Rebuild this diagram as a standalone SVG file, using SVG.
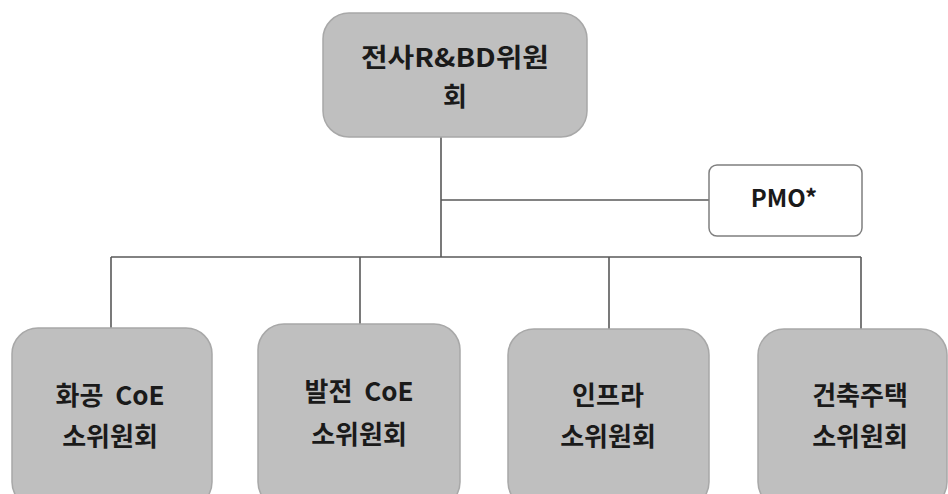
<svg xmlns="http://www.w3.org/2000/svg" width="948" height="494" viewBox="0 0 948 494">
<style>
.g{fill:#bfbfbf;stroke:#a8a8a8;stroke-width:1.5}
.w{fill:#ffffff;stroke:#7f7f7f;stroke-width:1.5}
.t{font-family:"Noto Sans CJK KR","Noto Sans",sans-serif;font-weight:700;font-size:26px;fill:#1a1a1a;text-anchor:middle}
.c{fill:none;stroke:#595959;stroke-width:1.6}
</style>
<rect width="948" height="494" fill="#ffffff"/>
<g id="connectors">
<path class="c" d="M441 137V257M441 200H709M111 257H861M111 257V328M360 257V324M609 257V329M861 257V329"/>
</g>
<g id="root">
<rect class="g" x="323" y="13" width="264" height="124" rx="26"/>
<text class="t" x="455" y="67" textLength="188" lengthAdjust="spacingAndGlyphs">전사R&amp;BD위원</text>
<text class="t" x="455" y="106">회</text>
</g>
<g id="pmo">
<rect class="w" x="709" y="165" width="153" height="71" rx="8"/>
<text class="t" x="784" y="207" style="font-size:24px">PMO*</text>
</g>
<g id="n1">
<rect class="g" x="12" y="328" width="200" height="180" rx="26"/>
<text class="t" x="110" y="405" xml:space="preserve">화공  CoE</text>
<text class="t" x="110" y="446">소위원회</text>
</g>
<g id="n2">
<rect class="g" x="258" y="324" width="202" height="184" rx="26"/>
<text class="t" x="359" y="401" xml:space="preserve">발전  CoE</text>
<text class="t" x="359" y="444">소위원회</text>
</g>
<g id="n3">
<rect class="g" x="508" y="329" width="201" height="179" rx="26"/>
<text class="t" x="608" y="405">인프라</text>
<text class="t" x="608" y="446">소위원회</text>
</g>
<g id="n4">
<rect class="g" x="758" y="329" width="189" height="179" rx="26"/>
<text class="t" x="860" y="405">건축주택</text>
<text class="t" x="860" y="446">소위원회</text>
</g>
</svg>
